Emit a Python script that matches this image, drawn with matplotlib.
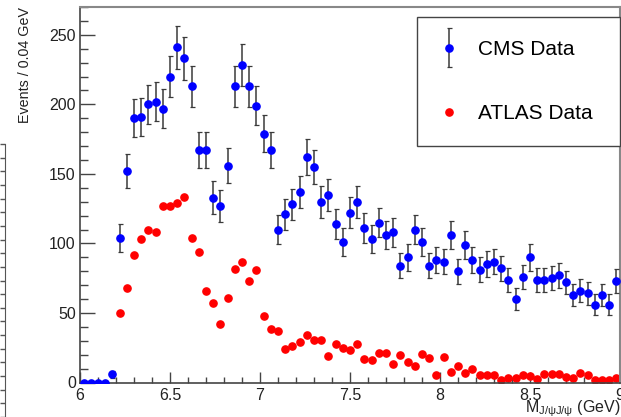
import numpy as np
import matplotlib
matplotlib.use('Agg')
import matplotlib.pyplot as plt
from matplotlib.ticker import MultipleLocator
from matplotlib.legend_handler import HandlerErrorbar
from matplotlib.container import ErrorbarContainer

plt.rcParams['font.family'] = ['Liberation Sans', 'DejaVu Sans']
plt.rcParams['mathtext.fontset'] = 'custom'
plt.rcParams['mathtext.rm'] = 'Liberation Sans'
plt.rcParams['mathtext.it'] = 'Liberation Sans:italic'

# Bins de 0.04 GeV entre 6 y 9 GeV
bin_width = 0.04
cms_start = 6.02
atlas_start = 6.22

# Eventos CMS por bin
cms_counts = [0, 0, 0, 0, 6, 104, 152, 190, 191, 200, 202, 197, 220, 241, 233,
              213, 167, 167, 133, 127, 156, 213, 228, 213, 199, 179, 167, 110,
              121, 128, 137, 162, 155, 130, 135, 114, 101, 122, 130, 111, 103,
              115, 106, 108, 84, 90, 110, 101, 84, 88, 87, 106, 80, 99, 88, 81,
              85, 87, 82, 74, 60, 76, 90, 74, 74, 75, 77, 72, 63, 66, 64, 56,
              63, 56, 73]

# Eventos ATLAS por bin
atlas_counts = [50, 68, 91.5, 103, 110, 108, 127, 127, 129, 133.5, 104, 94, 66,
                57, 42, 60.5, 81.7, 87, 73.3, 81, 48, 38.4, 37.3, 24, 26, 29,
                34.4, 30.3, 30.4, 19.2, 27.9, 24.6, 23.3, 28, 16.6, 16.1, 21.4,
                21.4, 13.3, 19.7, 14.6, 11.6, 20.3, 17.4, 5.1, 18.5, 7.9, 11.7,
                6.7, 9.8, 5.7, 5.7, 5.7, 1.9, 3.1, 3.1, 5.7, 4.5, 2.6, 6.2, 6.2,
                6.2, 4, 2.9, 6.9, 5.2, 2.1, 2.1, 2.1, 3.3]

cms_x = cms_start + bin_width * np.arange(len(cms_counts))
atlas_x = atlas_start + bin_width * np.arange(len(atlas_counts))
cms_err = np.sqrt(np.array(cms_counts, dtype=float))

fig = plt.figure(figsize=(6.21, 4.17), dpi=100)
ax = fig.add_axes([80 / 621, 34.5 / 417, 540 / 621, 375.5 / 417])

cms = ax.errorbar(cms_x, cms_counts, yerr=cms_err, fmt='o', color='#0000ff',
                  markersize=5.2, ecolor='#3a3a3a', elinewidth=1.1,
                  capsize=1.8, capthick=0.9, label='CMS Data', zorder=3)
atlas = ax.plot(atlas_x, atlas_counts, 'o', color='#ff0000', markersize=5.2,
                linestyle='none', label='ATLAS Data', zorder=2)[0]

ax.set_xlim(6, 9)
ax.set_ylim(0, 270)
ax.xaxis.set_major_locator(MultipleLocator(0.5))
ax.xaxis.set_minor_locator(MultipleLocator(0.1))
ax.yaxis.set_major_locator(MultipleLocator(50))
ax.yaxis.set_minor_locator(MultipleLocator(10))
ax.set_xticks([6, 6.5, 7, 7.5, 8, 8.5, 9])
ax.set_xticklabels(['6', '6.5', '7', '7.5', '8', '8.5', '9'])

ax.tick_params(axis='both', which='both', direction='in', colors='#444444',
               labelcolor='#222222', labelsize=11.5)
ax.tick_params(axis='y', which='major', length=11, width=1, pad=3)
ax.tick_params(axis='y', which='minor', length=5.5, width=1)
ax.tick_params(axis='x', which='major', length=8, width=1, pad=4)
ax.tick_params(axis='x', which='minor', length=4.5, width=1)

for side in ['left', 'bottom']:
    ax.spines[side].set_color('#444444')
    ax.spines[side].set_linewidth(1.2)
for side in ['top', 'right']:
    ax.spines[side].set_color('#888888')
    ax.spines[side].set_linewidth(1.5)

ax.set_ylabel('Events / 0.04 GeV', fontsize=10.3, loc='top', color='#222222')
ax.yaxis.set_label_coords(-0.089, 1.0)
ax.set_xlabel(r'M$_{\mathregular{J/\psi J/\psi}}$ (GeV)', fontsize=11.5,
              loc='right', color='#222222')
ax.xaxis.set_label_coords(1.0, -0.042)

leg = ax.legend(handles=[cms, atlas], loc='upper left',
                bbox_to_anchor=(0.624, 0.627, 0.376, 0.346), mode='expand',
                borderaxespad=0, fontsize=15, fancybox=False, framealpha=1,
                edgecolor='#444444', borderpad=1.1, handlelength=0.87,
                handletextpad=0.96, labelspacing=2.15,
                handler_map={ErrorbarContainer: HandlerErrorbar(yerr_size=0.94)})
leg.get_frame().set_linewidth(1.0)

# Trozo del eje de otro gráfico en el borde izquierdo
side_ax = fig.add_axes([0, 0, 4.5 / 621, 273 / 417])
side_ax.set_xlim(0, 1)
side_ax.set_ylim(0, 20)
for side in ['left', 'top', 'bottom']:
    side_ax.spines[side].set_visible(False)
side_ax.spines['right'].set_color('#555555')
side_ax.set_xticks([])
side_ax.yaxis.tick_right()
side_ax.set_yticks(np.arange(0, 21))
side_ax.tick_params(axis='y', direction='in', length=3.5, width=1,
                    colors='#555555', labelright=False)

fig.savefig('out.png', dpi=100)
